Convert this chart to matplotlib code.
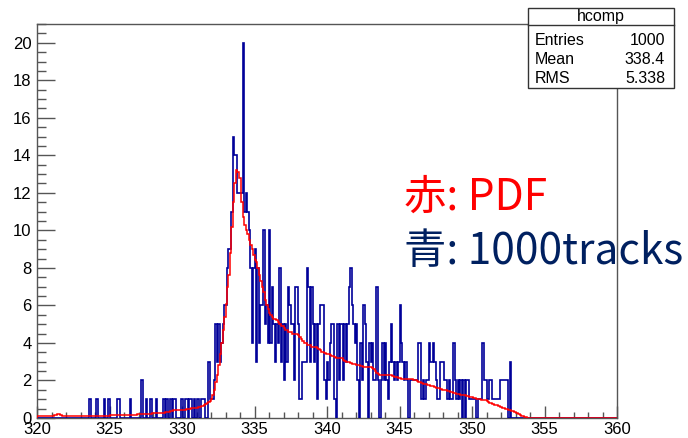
import numpy as np
import matplotlib
matplotlib.use("Agg")
import matplotlib.pyplot as plt
from matplotlib.patches import Rectangle

# histogram range: 400 bins of 0.1 between 320 and 360
x_min, x_max, n_bins = 320, 360, 400

# blue: 1000 tracks, one row = one unit (10 bins), starting at 320
blue_rows = [
    [0, 0, 0, 0, 0, 0, 0, 0, 0, 0],   # 320
    [0, 0, 0, 0, 0, 0, 0, 0, 0, 0],
    [0, 0, 0, 0, 0, 0, 0, 0, 0, 0],
    [0, 0, 0, 0, 0, 0, 1, 0, 0, 0],
    [0, 1, 0, 0, 0, 0, 1, 0, 0, 1],
    [0, 0, 0, 0, 0, 1, 1, 0, 0, 0],   # 325
    [0, 0, 0, 0, 1, 0, 0, 0, 0, 0],
    [0, 0, 2, 0, 0, 1, 0, 0, 1, 0],
    [0, 0, 1, 0, 0, 0, 0, 1, 0, 1],
    [0, 0, 1, 0, 1, 1, 0, 0, 0, 1],
    [1, 0, 1, 1, 0, 1, 1, 0, 1, 0],   # 330
    [1, 1, 0, 1, 1, 1, 0, 0, 3, 1],
    [1, 1, 2, 5, 3, 5, 3, 4, 5, 6],
    [6, 8, 9, 9, 11, 15, 14, 14, 12, 12],
    [12, 12, 20, 11, 12, 11, 10, 8, 4, 8],
    [9, 3, 8, 4, 6, 6, 10, 5, 6, 4],  # 335
    [10, 4, 7, 5, 3, 5, 4, 8, 3, 5],
    [2, 5, 3, 7, 6, 5, 5, 2, 7, 7],
    [5, 1, 1, 3, 3, 3, 8, 7, 3, 7],
    [5, 3, 5, 1, 5, 6, 6, 6, 2, 1],
    [3, 2, 4, 5, 5, 1, 0, 5, 2, 5],   # 340
    [5, 2, 5, 3, 5, 7, 8, 6, 5, 4],
    [5, 2, 0, 4, 2, 6, 5, 3, 0, 4],
    [3, 4, 2, 2, 7, 2, 0, 2, 4, 2],
    [4, 2, 1, 3, 5, 3, 2, 3, 2, 3],
    [6, 4, 3, 2, 3, 2, 0, 2, 2, 2],   # 345
    [2, 2, 2, 4, 4, 1, 2, 1, 2, 2],
    [4, 3, 3, 4, 3, 2, 1, 1, 3, 3],
    [3, 2, 2, 1, 2, 1, 1, 4, 2, 1],
    [2, 1, 2, 0, 2, 0, 2, 2, 1, 1],
    [1, 1, 1, 0, 1, 1, 1, 4, 2, 2],   # 350
    [1, 1, 2, 2, 1, 1, 1, 1, 1, 2],
    [2, 2, 2, 2, 2, 0, 3, 0, 0, 0],
    [0, 0, 0, 0, 0, 0, 0, 0, 0, 0],
    [0, 0, 0, 0, 0, 0, 0, 0, 0, 0],
    [0, 0, 0, 0, 0, 0, 0, 0, 0, 0],   # 355
    [0, 0, 0, 0, 0, 0, 0, 0, 0, 0],
    [0, 0, 0, 0, 0, 0, 0, 0, 0, 0],
    [0, 0, 0, 0, 0, 0, 0, 0, 0, 0],
    [0, 0, 0, 0, 0, 0, 0, 0, 0, 0],
]

# red: PDF, same binning
red_rows = [
    [.08, .08, .08, .1, .1, .1, .1, .1, .12, .12],   # 320
    [.12, .12, .15, .15, .2, .2, .15, .12, .12, .12],
    [.1, .1, .1, .1, .1, .1, .12, .12, .12, .12],
    [.12, .12, .12, .12, .12, .1, .1, .1, .1, .1],
    [.1, .1, .12, .12, .12, .12, .12, .12, .12, .12],
    [.15, .15, .15, .15, .15, .15, .15, .15, .15, .15],   # 325
    [.15, .15, .15, .18, .18, .18, .18, .18, .18, .2],
    [.2, .2, .2, .2, .2, .22, .22, .22, .22, .25],
    [.25, .25, .25, .25, .28, .28, .28, .28, .3, .3],
    [.3, .32, .35, .38, .4, .4, .42, .42, .42, .4],
    [.4, .42, .45, .48, .5, .5, .52, .52, .55, .55],   # 330
    [.55, .58, .6, .62, .65, .7, .72, .78, .85, .9],
    [1.0, 1.2, 1.5, 1.9, 2.3, 2.8, 3.4, 4.0, 4.7, 5.4],
    [6.1, 7.0, 7.6, 8.8, 10.2, 11.5, 12.5, 13.2, 13.1, 12.8],
    [12.8, 11.5, 10.7, 10.3, 10.0, 9.8, 9.5, 9.2, 9.0, 8.7],
    [8.4, 8.3, 8.0, 7.6, 7.3, 7.0, 6.7, 6.3, 6.0, 5.8],   # 335
    [5.6, 5.5, 5.4, 5.3, 5.3, 5.2, 5.1, 5.0, 4.9, 4.9],
    [4.8, 4.7, 4.7, 4.6, 4.6, 4.6, 4.5, 4.5, 4.5, 4.5],
    [4.4, 4.3, 4.2, 4.1, 4.0, 4.0, 3.9, 3.9, 3.9, 3.8],
    [3.8, 3.8, 3.8, 3.75, 3.7, 3.6, 3.5, 3.5, 3.45, 3.4],
    [3.4, 3.4, 3.35, 3.3, 3.3, 3.25, 3.2, 3.2, 3.2, 3.2],   # 340
    [3.2, 3.1, 3.05, 3.0, 3.0, 3.0, 2.95, 2.9, 2.9, 2.9],
    [2.85, 2.8, 2.8, 2.75, 2.75, 2.7, 2.7, 2.7, 2.7, 2.7],
    [2.7, 2.65, 2.6, 2.5, 2.4, 2.35, 2.3, 2.3, 2.3, 2.3],
    [2.3, 2.3, 2.3, 2.3, 2.3, 2.25, 2.2, 2.2, 2.2, 2.15],
    [2.15, 2.1, 2.1, 2.1, 2.1, 2.1, 2.1, 2.1, 2.1, 2.05],   # 345
    [2.0, 2.0, 1.95, 1.9, 1.9, 1.85, 1.8, 1.8, 1.8, 1.75],
    [1.75, 1.7, 1.7, 1.7, 1.65, 1.6, 1.6, 1.6, 1.55, 1.5],
    [1.5, 1.5, 1.5, 1.45, 1.45, 1.4, 1.4, 1.35, 1.35, 1.3],
    [1.3, 1.3, 1.25, 1.25, 1.2, 1.2, 1.15, 1.15, 1.1, 1.1],
    [1.1, 1.05, 1.05, 1.0, 1.0, 1.0, 0.95, 0.95, 0.95, 0.95],   # 350
    [0.9, 0.85, 0.8, 0.8, 0.75, 0.7, 0.7, 0.7, 0.65, 0.6],
    [0.6, 0.55, 0.55, 0.5, 0.5, 0.45, 0.4, 0.35, 0.35, 0.3],
    [0.28, 0.25, 0.2, 0.15, 0.1, 0.08, 0.05, 0.03, 0.02, 0.01],
    [0, 0, 0, 0, 0, 0, 0, 0, 0, 0],
    [0, 0, 0, 0, 0, 0, 0, 0, 0, 0],   # 355
    [0, 0, 0, 0, 0, 0, 0, 0, 0, 0],
    [0, 0, 0, 0, 0, 0, 0, 0, 0, 0],
    [0, 0, 0, 0, 0, 0, 0, 0, 0, 0],
    [0, 0, 0, 0, 0, 0, 0, 0, 0, 0],
]

x_ticks = [320, 325, 330, 335, 340, 345, 350, 355, 360]
y_ticks = [0, 2, 4, 6, 8, 10, 12, 14, 16, 18, 20]

stats_title = "hcomp"
stats_names = ["Entries", "Mean", "RMS"]
stats_values = ["1000", "338.4", "5.338"]

blue = np.array(blue_rows, dtype=float).ravel()
red = np.array(red_rows, dtype=float).ravel()
edges = np.linspace(x_min, x_max, n_bins + 1)

plt.rcParams['font.family'] = ['Liberation Sans', 'DejaVu Sans']

fig = plt.figure(figsize=(6.88, 4.38), dpi=100)
W, H = 688, 438
# frame in pixels: left 37, right 617, top 24, bottom 418
ax = fig.add_axes([37 / W, 1 - 418 / H, (617 - 37) / W, (418 - 24) / H])

ax.stairs(blue, edges, color='#000099', linewidth=1.2, zorder=3)
ax.stairs(red, edges, color='#ff0000', linewidth=1.1, zorder=4)

ax.set_xlim(x_min, x_max)
ax.set_ylim(0, 21)
ax.set_xticks(x_ticks)
ax.set_yticks(y_ticks)
ax.set_xticks(np.arange(320, 361, 1), minor=True)
ax.set_yticks(np.arange(0, 21.01, 0.5), minor=True)

axis_col = '#555555'
for s in ax.spines.values():
    s.set_color(axis_col)
    s.set_linewidth(1.0)
ax.tick_params(axis='x', which='major', direction='in', length=9, width=1, color=axis_col,
               labelsize=12, pad=3, top=False)
ax.tick_params(axis='x', which='minor', direction='in', length=4.5, width=1, color=axis_col, top=False)
ax.tick_params(axis='y', which='major', direction='in', length=13, width=1, color=axis_col,
               labelsize=12, pad=4, right=False)
ax.tick_params(axis='y', which='minor', direction='in', length=6.5, width=1, color=axis_col, right=False)

# stats box
bx0, bx1, by0, by1, bdiv = 528, 674, 8, 88, 25
fig.add_artist(Rectangle((bx0 / W, 1 - by1 / H), (bx1 - bx0) / W, (by1 - by0) / H,
                         transform=fig.transFigure, facecolor='white', edgecolor='#333333',
                         linewidth=1.0, zorder=5))
fig.add_artist(plt.Line2D([bx0 / W, bx1 / W], [1 - bdiv / H, 1 - bdiv / H],
                          transform=fig.transFigure, color='#333333', linewidth=1.0, zorder=6))
fig.text((bx0 + bx1) / 2 / W, 1 - 21 / H, stats_title, ha='center', va='baseline', fontsize=11.5, zorder=7)
for i, (n, v) in enumerate(zip(stats_names, stats_values)):
    yb = 1 - (45 + 19 * i) / H
    fig.text(535 / W, yb, n, ha='left', va='baseline', fontsize=11.5, zorder=7)
    fig.text(665 / W, yb, v, ha='right', va='baseline', fontsize=11.5, zorder=7)

# annotations
cjk = ['Noto Sans CJK JP', 'DejaVu Sans']
fig.text(404 / W, 1 - 210 / H, "赤: PDF", color='#ff0000', fontsize=30.5, family=cjk,
         ha='left', va='baseline', zorder=8)
fig.text(404 / W, 1 - 264 / H, "青: 1000tracks", color='#002060', fontsize=30.5, family=cjk,
         ha='left', va='baseline', zorder=8)

fig.savefig("out.png", dpi=100)
